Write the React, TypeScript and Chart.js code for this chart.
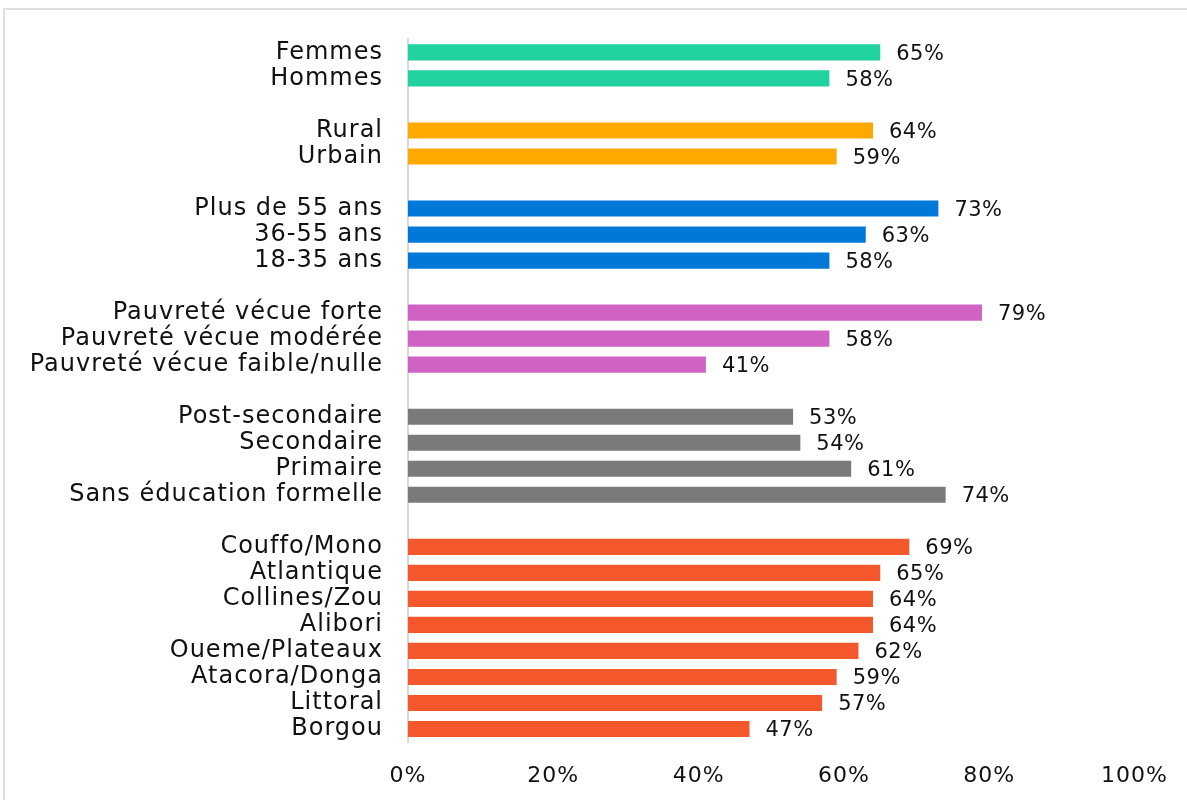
import { useEffect, useRef } from "react";
import { Chart, registerables } from "chart.js";

Chart.register(...registerables);

const categories: string[] = [
  "Femmes", "Hommes", "",
  "Rural", "Urbain", "",
  "Plus de 55 ans", "36-55 ans", "18-35 ans", "",
  "Pauvreté vécue forte", "Pauvreté vécue modérée", "Pauvreté vécue faible/nulle", "",
  "Post-secondaire", "Secondaire", "Primaire", "Sans éducation formelle", "",
  "Couffo/Mono", "Atlantique", "Collines/Zou", "Alibori", "Oueme/Plateaux", "Atacora/Donga", "Littoral", "Borgou",
];

const values: (number | null)[] = [
  65, 58, null,
  64, 59, null,
  73, 63, 58, null,
  79, 58, 41, null,
  53, 54, 61, 74, null,
  69, 65, 64, 64, 62, 59, 57, 47,
];

// group index of each row (-1 = spacer row)
const groups: number[] = [
  0, 0, -1,
  1, 1, -1,
  2, 2, 2, -1,
  3, 3, 3, -1,
  4, 4, 4, 4, -1,
  5, 5, 5, 5, 5, 5, 5, 5,
];

const groupColors: string[] = ["#22D1A0", "#FFA800", "#0078D7", "#D062C4", "#7A7A7A", "#F4572C"];

const xTicks: number[] = [0, 20, 40, 60, 80, 100];

const FONT = "'DejaVu Sans', sans-serif";

const spacing = {
  id: "spacing",
  beforeDraw(chart: any) {
    (chart.ctx as any).letterSpacing = "1px";
  },
};

const valueLabels = {
  id: "valueLabels",
  afterDatasetsDraw(chart: any) {
    const ctx = chart.ctx;
    const meta = chart.getDatasetMeta(0);
    ctx.save();
    (ctx as any).letterSpacing = "0.5px";
    ctx.font = `21px ${FONT}`;
    ctx.fillStyle = "#111";
    ctx.textBaseline = "middle";
    ctx.textAlign = "left";
    meta.data.forEach((bar: any, i: number) => {
      const v = values[i];
      if (v == null) return;
      ctx.fillText(`${v}%`, bar.x + 16, bar.y + 2);
    });
    ctx.restore();
  },
};

export default function App() {
  const ref = useRef<HTMLCanvasElement | null>(null);

  useEffect(() => {
    if (!ref.current) return;
    const chart = new Chart(ref.current, {
      type: "bar",
      data: {
        labels: categories,
        datasets: [
          {
            data: values as any,
            backgroundColor: groups.map((g) => (g >= 0 ? groupColors[g] : "transparent")),
            borderWidth: 0,
            barPercentage: 0.62,
            categoryPercentage: 1,
          },
        ],
      },
      options: {
        indexAxis: "y",
        responsive: false,
        animation: false,
        layout: { padding: { top: 37, right: 51, left: 0, bottom: 0 } },
        plugins: {
          legend: { display: false },
          tooltip: { enabled: false },
        },
        scales: {
          x: {
            min: 0,
            max: 100,
            afterBuildTicks: (scale: any) => {
              scale.ticks = xTicks.map((v) => ({ value: v }));
            },
            afterFit: (scale: any) => {
              scale.height = 58;
            },
            grid: { display: false, drawTicks: false },
            border: { display: false },
            ticks: {
              padding: 21,
              color: "#111",
              font: { family: FONT, size: 22 },
              callback: (v: any) => `${v}%`,
            },
          },
          y: {
            afterFit: (scale: any) => {
              scale.width = 408;
            },
            grid: { display: false, drawTicks: false },
            border: { display: true, color: "#d9d9d9", width: 2 },
            ticks: {
              padding: 25,
              color: "#111",
              autoSkip: false,
              font: { family: FONT, size: 24 },
            },
          },
        },
      },
      plugins: [spacing, valueLabels],
    });
    return () => chart.destroy();
  }, []);

  return (
    <div style={{ position: "absolute", left: 0, top: 0, width: 1187, height: 800, overflow: "hidden", background: "#fff" }}>
      <div
        style={{
          position: "absolute",
          left: 3,
          top: 8,
          width: 1400,
          height: 1000,
          border: "2px solid #e0e0e0",
          boxSizing: "border-box",
        }}
      />
      <canvas ref={ref} width={1187} height={800} style={{ position: "absolute", left: 0, top: 0 }} />
    </div>
  );
}
